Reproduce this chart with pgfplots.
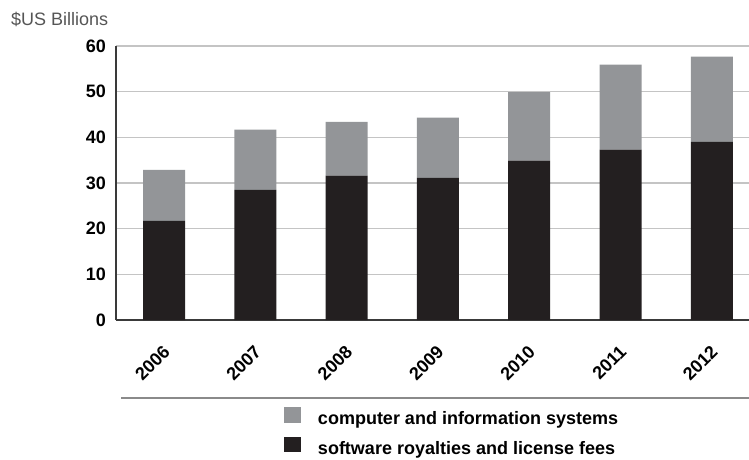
\documentclass[border=0pt]{standalone}
\usepackage{fontspec}
\setmainfont{Liberation Sans}
\usepackage{pgfplots}
\pgfplotsset{compat=1.18}

\definecolor{cisgray}{HTML}{939598}
\definecolor{swblack}{HTML}{231F20}
\definecolor{gridgray}{HTML}{C4C4C4}
\definecolor{axisdark}{HTML}{3A3A3A}
\definecolor{rulegray}{HTML}{8A8A8A}
\definecolor{unitgray}{HTML}{555555}

% software royalties and license fees (bottom segment)
\pgfplotstableread{
x  val
0  21.7
1  28.5
2  31.6
3  31.1
4  34.9
5  37.3
6  39.0
}\software
% computer and information systems (stacked on top)
\pgfplotstableread{
x  val
0  11.2
1  13.2
2  11.8
3  13.2
4  15.0
5  18.6
6  18.7
}\computer

\begin{document}
\begin{tikzpicture}[x=1pt,y=1pt]
\useasboundingbox (0,0) rectangle (749,459);
\node[anchor=base west, inner sep=0pt, text=unitgray,
      font=\fontsize{18}{18}\selectfont] at (11,433.3) {\$US Billions};
\draw[rulegray, line width=1.2pt] (121,61) -- (749,61);
\begin{axis}[
  at={(116pt,139pt)}, anchor=south west,
  scale only axis, width=633pt, height=274pt,
  ybar stacked, bar width=42pt,
  xmin=-0.526, xmax=6.407, ymin=0, ymax=60,
  xtick={0,...,6},
  xticklabels={2006,2007,2008,2009,2010,2011,2012},
  ytick={0,10,...,60},
  axis x line=bottom, axis y line=left,
  axis line style={-, axisdark, line width=1.5pt},
  ymajorgrids, grid style={gridgray, line width=1.3pt},
  major tick length=0pt,
  /pgf/number format/assume math mode=true,
  yticklabel style={anchor=east, inner sep=0pt, xshift=-10pt,
    font=\bfseries\fontsize{18}{18}\selectfont},
  xticklabel style={xshift=-2pt, yshift=-24pt, rotate=45, anchor=north east,
    inner sep=0pt, font=\bfseries\fontsize{18}{18}\selectfont},
  legend style={at={(0.2654,-0.3175)}, anchor=north west, draw=none, fill=none,
    inner sep=0pt, outer sep=0pt, row sep=8pt, column sep=17pt,
    font=\bfseries\fontsize{18}{18}\selectfont,
    nodes={inner sep=0pt, text height=13pt, text depth=4pt}},
  legend cell align=left,
  legend image code/.code={\fill[#1] (0pt,-2.5pt) rectangle (17pt,13pt);},
]
\addlegendimage{fill=cisgray, draw=none}
\addlegendentry{computer and information systems}
\addlegendimage{fill=swblack, draw=none}
\addlegendentry{software royalties and license fees}
\addplot[fill=swblack, draw=none, forget plot] table[x=x, y=val] {\software};
\addplot[fill=cisgray, draw=none, forget plot] table[x=x, y=val] {\computer};
\end{axis}
\end{tikzpicture}
\end{document}
